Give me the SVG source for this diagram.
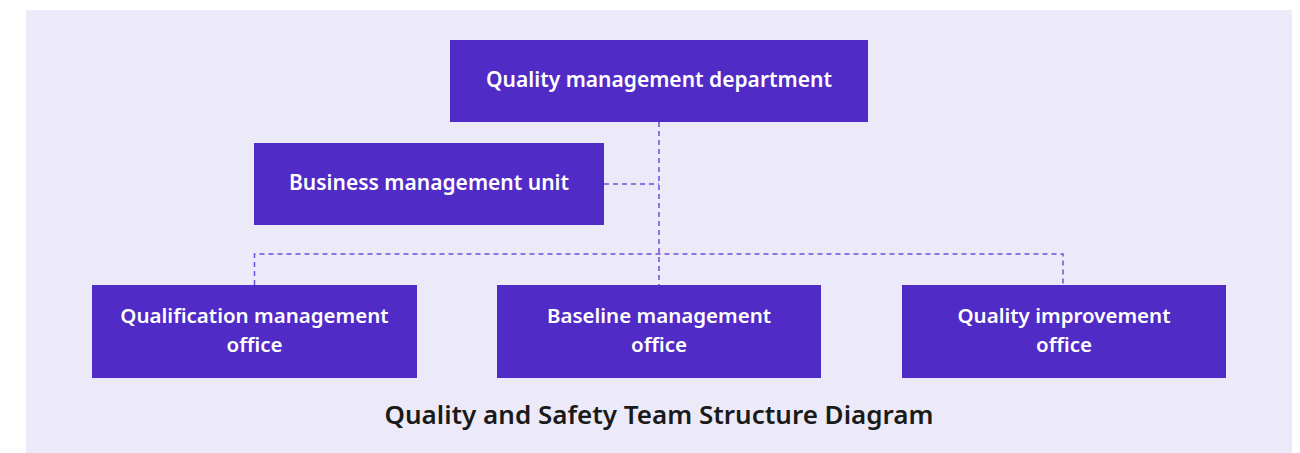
<svg xmlns="http://www.w3.org/2000/svg" width="1300" height="453" viewBox="0 0 1300 453">
<style>
.box{fill:#512bc6}
.lbl{fill:#ffffff;font-family:"Noto Sans","Open Sans",sans-serif;font-size:21px;font-weight:600;text-anchor:middle}
.lbl2{fill:#ffffff;font-family:"Noto Sans","Open Sans",sans-serif;font-size:20.5px;font-weight:600;text-anchor:middle}
.conn{fill:none;stroke:#6f4fdc;stroke-width:1.5;stroke-dasharray:5 4}
.title{fill:#1a1a1a;font-family:"Noto Sans","Open Sans",sans-serif;font-size:26px;font-weight:600;text-anchor:middle}
</style>
<rect x="0" y="0" width="1300" height="453" fill="#ffffff"/>
<rect x="26" y="10" width="1266" height="443" fill="#eceaf8"/>
<g id="connectors">
<path class="conn" d="M659 122 V285"/>
<path class="conn" d="M604 184 H659"/>
<path class="conn" d="M254.5 285 V254 H1063 V285"/>
</g>
<g id="quality-management-department">
<rect class="box" x="450" y="40" width="418" height="82"/>
<text class="lbl" x="659" y="87">Quality management department</text>
</g>
<g id="business-management-unit">
<rect class="box" x="254" y="143" width="350" height="82"/>
<text class="lbl" x="429" y="190">Business management unit</text>
</g>
<g id="qualification-management-office">
<rect class="box" x="92" y="285" width="325" height="93"/>
<text class="lbl2" x="254.5" y="323">Qualification management</text>
<text class="lbl2" x="254.5" y="351.5">office</text>
</g>
<g id="baseline-management-office">
<rect class="box" x="497" y="285" width="324" height="93"/>
<text class="lbl2" x="659" y="323">Baseline management</text>
<text class="lbl2" x="659" y="351.5">office</text>
</g>
<g id="quality-improvement-office">
<rect class="box" x="902" y="285" width="324" height="93"/>
<text class="lbl2" x="1064" y="323">Quality improvement</text>
<text class="lbl2" x="1064" y="351.5">office</text>
</g>
<text class="title" x="659" y="424">Quality and Safety Team Structure Diagram</text>
</svg>
